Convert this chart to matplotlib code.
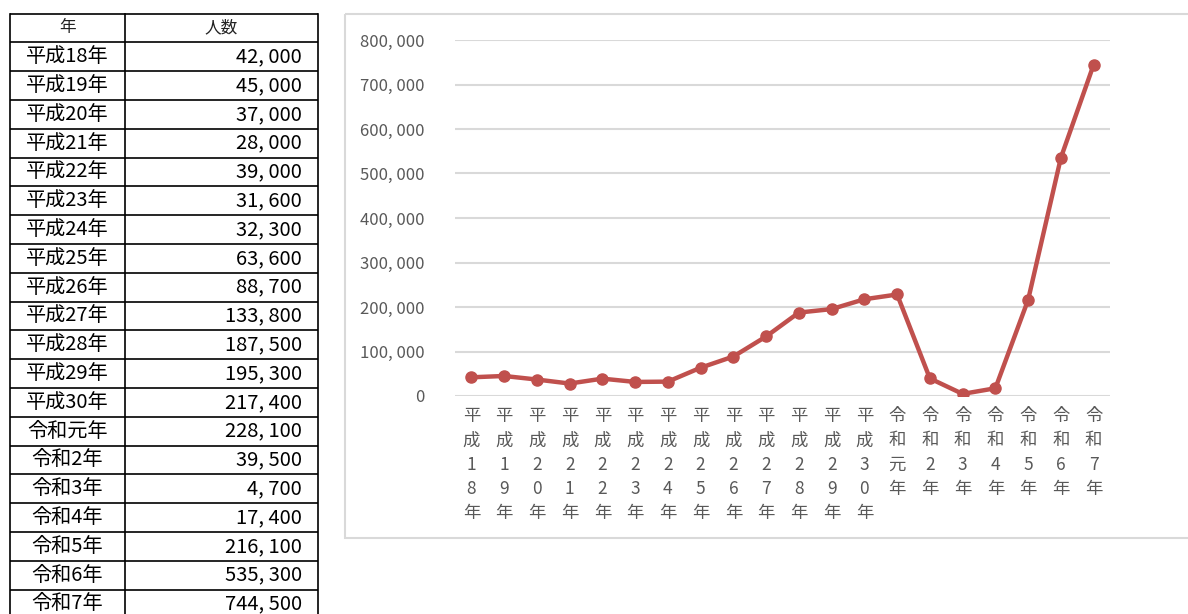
import numpy as np
import matplotlib.pyplot as plt
from matplotlib.patches import Rectangle
from matplotlib.ticker import FuncFormatter

plt.rcParams['font.family'] = ['Noto Sans CJK JP', 'DejaVu Sans']

# data
years = ['平成18年', '平成19年', '平成20年', '平成21年', '平成22年', '平成23年',
         '平成24年', '平成25年', '平成26年', '平成27年', '平成28年', '平成29年',
         '平成30年', '令和元年', '令和2年', '令和3年', '令和4年', '令和5年',
         '令和6年', '令和7年']
people = [42000, 45000, 37000, 28000, 39000, 31600, 32300, 63600, 88700,
          133800, 187500, 195300, 217400, 228100, 39500, 4700, 17400,
          216100, 535300, 744500]
table_header = ['年', '人数']

W, H = 1188, 614
fig = plt.figure(figsize=(W / 100, H / 100), dpi=100)

# background layer in pixel coords for table + chart frame
bg = fig.add_axes([0, 0, 1, 1])
bg.set_xlim(0, W)
bg.set_ylim(H, 0)
bg.axis('off')

# table
x0, x1, x2 = 10, 125, 318
top, row_h = 13.5, 28.8
n_rows = len(years) + 1
for i in range(n_rows + 1):
    y = top + i * row_h
    bg.plot([x0, x2], [y, y], color='black', lw=1.2, solid_capstyle='butt')
bottom = top + n_rows * row_h
for xv in (x0, x1, x2):
    bg.plot([xv, xv], [top, bottom], color='black', lw=1.2)

bg.text((x0 + x1) / 2, top + row_h / 2, table_header[0], ha='center',
        va='center', fontsize=12, color='#222222')
bg.text((x1 + x2) / 2, top + row_h / 2, table_header[1], ha='center',
        va='center', fontsize=12, color='#222222')
for i, (yr, v) in enumerate(zip(years, people)):
    yc = top + (i + 1.5) * row_h
    bg.text((x0 + x1) / 2, yc, yr, ha='center', va='center', fontsize=14.5,
            color='black')
    bg.text(302, yc, '{:,}'.format(v).replace(',', ', '), ha='right',
            va='center', fontsize=14.5, color='black')

# chart frame
bg.add_patch(Rectangle((345, 14), 900, 524, fill=False, ec='#d9d9d9', lw=1.5))

# chart
ax = fig.add_axes([455 / W, (H - 396) / H, 655 / W, 356 / H])
x = np.arange(len(years))
ax.plot(x, people, color='#C0504D', lw=3.2, marker='o', markersize=8,
        solid_capstyle='round', solid_joinstyle='round', zorder=3)
ax.set_xlim(-0.5, len(years) - 0.5)
ax.set_ylim(0, 800000)
ax.set_yticks(np.arange(0, 800001, 100000))
ax.yaxis.set_major_formatter(FuncFormatter(lambda v, p: '{:,}'.format(int(v)).replace(',', ', ')))
ax.grid(axis='y', color='#d9d9d9', lw=1.5)
ax.set_axisbelow(True)
for s in ax.spines.values():
    s.set_visible(False)
ax.set_xticks(x)
# vertical labels: one character per line
ax.set_xticklabels(['\n'.join(list(y)) for y in years], linespacing=1.45)
ax.tick_params(axis='x', length=0, pad=8, labelsize=12.5, labelcolor='#595959')
ax.tick_params(axis='y', length=0, pad=22, labelsize=12, labelcolor='#595959')

fig.savefig('out.png', dpi=100)
